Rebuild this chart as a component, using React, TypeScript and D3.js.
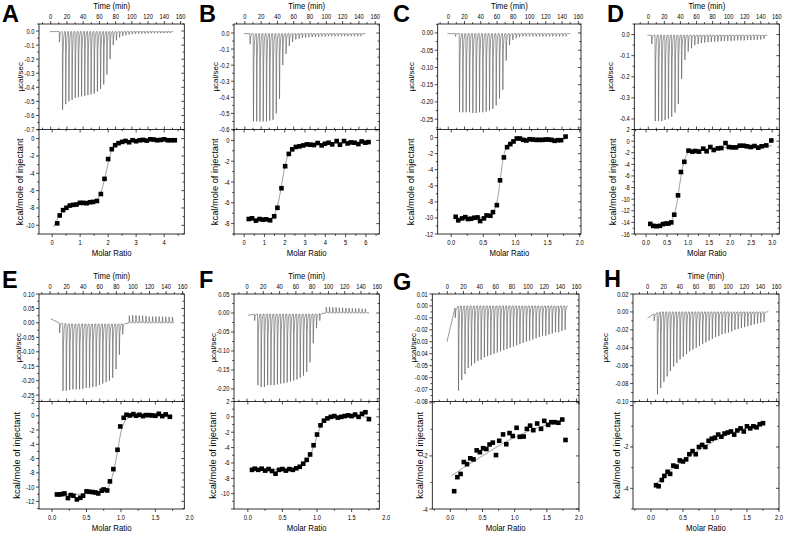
import React from "react";
import * as d3 from "d3";

type Pt = [number, number];

// ---------------- DATA ----------------
// Panel A
const A_BASE: Pt[] = [[-1, -0.004], [151, -0.004]];
const A_PEAKS: Pt[] = [[10.5,-0.08],[14.3,-0.56],[18.2,-0.52],[22.1,-0.5],[26,-0.49],[29.9,-0.475],[33.8,-0.47],[37.7,-0.465],[41.6,-0.46],[45.5,-0.455],[49.4,-0.45],[53.3,-0.445],[57.2,-0.43],[61.1,-0.41],[65,-0.38],[68.9,-0.31],[72.8,-0.2],[76.7,-0.1],[80.6,-0.065],[84.5,-0.045],[88.4,-0.035],[92.3,-0.03],[96.2,-0.025],[100.1,-0.022],[104,-0.02],[107.9,-0.02],[111.8,-0.018],[115.7,-0.018],[119.6,-0.017],[123.5,-0.016],[127.4,-0.016],[131.3,-0.015],[135.2,-0.015],[139.1,-0.015],[143,-0.014],[146.9,-0.014]];
const A_POINTS: Pt[] = [[0.18,-9.77],[0.27,-8.86],[0.39,-8.25],[0.51,-7.98],[0.63,-7.72],[0.75,-7.64],[0.87,-7.6],[0.99,-7.41],[1.11,-7.41],[1.23,-7.45],[1.35,-7.34],[1.46,-7.3],[1.6,-7.19],[1.74,-6.39],[1.87,-4.64],[2.0,-2.36],[2.13,-1.22],[2.25,-0.76],[2.37,-0.53],[2.5,-0.38],[2.62,-0.27],[2.75,-0.42],[2.87,-0.19],[3.0,-0.3],[3.13,-0.19],[3.25,-0.15],[3.38,-0.23],[3.51,-0.08],[3.63,-0.11],[3.75,-0.19],[3.88,-0.15],[4.0,-0.08],[4.13,-0.19],[4.25,-0.19],[4.38,-0.19]];
const A_FIT: Pt[] = [[0.05,-10.2],[0.2,-9.2],[0.4,-8.3],[0.6,-7.85],[0.8,-7.6],[1.0,-7.45],[1.2,-7.35],[1.4,-7.25],[1.6,-7.0],[1.7,-6.5],[1.8,-5.6],[1.9,-4.3],[2.0,-2.8],[2.1,-1.6],[2.2,-0.9],[2.35,-0.5],[2.6,-0.3],[3.0,-0.2],[4.4,-0.15]];

// Panel B
const B_BASE: Pt[] = [[-1, -0.004], [148, -0.004]];
const B_PEAKS: Pt[] = [[6.1,-0.07],[10.2,-0.55],[14.2,-0.55],[18.2,-0.55],[22.2,-0.55],[26.2,-0.55],[30.2,-0.545],[34.2,-0.54],[38.2,-0.5],[42.2,-0.41],[46.2,-0.2],[50.2,-0.13],[54.2,-0.08],[58.2,-0.055],[62.2,-0.04],[66.2,-0.035],[70.2,-0.03],[74.2,-0.028],[78.2,-0.026],[82.2,-0.025],[86.2,-0.024],[90.2,-0.023],[94.2,-0.022],[98.2,-0.022],[102.2,-0.02],[106.2,-0.02],[110.2,-0.02],[114.2,-0.02],[118.2,-0.02],[122.2,-0.02],[126.2,-0.02],[130.2,-0.02],[134.2,-0.02],[138.2,-0.02],[142.2,-0.02]];
const B_POINTS: Pt[] = [[0.23,-7.56],[0.39,-7.49],[0.58,-7.71],[0.76,-7.56],[0.92,-7.62],[1.09,-7.59],[1.28,-7.68],[1.48,-7.3],[1.64,-6.48],[1.84,-4.6],[2.02,-2.48],[2.2,-1.3],[2.37,-0.86],[2.55,-0.63],[2.73,-0.57],[2.91,-0.48],[3.09,-0.38],[3.26,-0.41],[3.44,-0.44],[3.62,-0.25],[3.82,-0.48],[3.98,-0.32],[4.16,-0.22],[4.34,-0.38],[4.56,-0.06],[4.72,-0.41],[4.92,-0.06],[5.1,-0.29],[5.26,-0.19],[5.44,-0.22],[5.63,-0.35],[5.79,-0.1],[5.97,-0.22],[6.13,-0.16]];
const B_FIT: Pt[] = [[0.2,-7.65],[1.0,-7.6],[1.3,-7.5],[1.5,-7.1],[1.6,-6.6],[1.7,-5.8],[1.8,-4.8],[1.9,-3.6],[2.0,-2.6],[2.1,-1.8],[2.2,-1.3],[2.4,-0.85],[2.7,-0.55],[3.2,-0.4],[4.0,-0.3],[6.2,-0.2]];

// Panel C
const C_BASE: Pt[] = [[-1, -0.002], [150, -0.002]];
const C_PEAKS: Pt[] = [[8.6,-0.01],[13.5,-0.23],[17.6,-0.23],[21.7,-0.23],[25.8,-0.23],[29.9,-0.232],[34,-0.232],[38.1,-0.23],[42.2,-0.23],[46.3,-0.228],[50.4,-0.225],[54.5,-0.22],[58.6,-0.21],[62.7,-0.19],[66.8,-0.165],[70.9,-0.08],[75,-0.035],[79.1,-0.02],[83.2,-0.015],[87.3,-0.012],[91.4,-0.01],[95.5,-0.01],[99.6,-0.01],[103.7,-0.01],[107.8,-0.01],[111.9,-0.01],[116,-0.01],[120.1,-0.01],[124.2,-0.01],[128.3,-0.01],[132.4,-0.01],[136.5,-0.01],[140.6,-0.01],[144.7,-0.01]];
const C_POINTS: Pt[] = [[0.07,-9.86],[0.11,-10.3],[0.17,-10.06],[0.22,-9.9],[0.26,-10.14],[0.31,-10.1],[0.36,-9.98],[0.41,-9.94],[0.45,-10.39],[0.51,-10.06],[0.55,-9.69],[0.61,-9.73],[0.65,-9.28],[0.71,-8.41],[0.76,-5.32],[0.82,-2.47],[0.87,-1.2],[0.92,-0.82],[0.97,-0.49],[1.02,-0.12],[1.07,-0.12],[1.12,-0.29],[1.17,-0.37],[1.22,-0.21],[1.27,-0.25],[1.32,-0.29],[1.37,-0.29],[1.42,-0.29],[1.47,-0.25],[1.51,-0.25],[1.56,-0.29],[1.61,-0.41],[1.66,-0.33],[1.71,-0.33],[1.78,0.12]];
const C_FIT: Pt[] = [[0.05,-10],[0.5,-9.95],[0.6,-9.7],[0.65,-9.3],[0.7,-8.4],[0.73,-7.2],[0.76,-5.5],[0.79,-3.6],[0.82,-2.2],[0.86,-1.2],[0.9,-0.6],[0.95,-0.35],[1.0,-0.25],[1.78,-0.2]];

// Panel D
const D_BASE: Pt[] = [[-1, -0.003], [148, -0.003]];
const D_PEAKS: Pt[] = [[4,-0.045],[8.3,-0.41],[12.4,-0.41],[16.5,-0.41],[20.6,-0.405],[24.7,-0.4],[28.8,-0.39],[32.9,-0.37],[37,-0.33],[41.1,-0.21],[45.2,-0.12],[49.3,-0.08],[53.4,-0.065],[57.5,-0.05],[61.6,-0.045],[65.7,-0.04],[69.8,-0.038],[73.9,-0.036],[78,-0.035],[82.1,-0.034],[86.2,-0.033],[90.3,-0.032],[94.4,-0.031],[98.5,-0.03],[102.6,-0.03],[106.7,-0.029],[110.8,-0.028],[114.9,-0.028],[119,-0.027],[123.1,-0.026],[127.2,-0.026],[131.3,-0.025],[135.4,-0.025],[139.5,-0.024],[143.6,-0.02]];
const D_POINTS: Pt[] = [[0.1,-14.26],[0.17,-14.6],[0.25,-14.66],[0.33,-14.6],[0.4,-14.3],[0.47,-14.2],[0.53,-14.2],[0.6,-14.0],[0.67,-12.68],[0.76,-9.34],[0.83,-5.32],[0.91,-3.57],[1.01,-1.64],[1.1,-1.81],[1.17,-1.7],[1.26,-1.81],[1.36,-1.3],[1.44,-1.75],[1.53,-1.02],[1.61,-1.53],[1.71,-1.25],[1.79,-1.19],[1.89,-0.34],[1.97,-1.02],[2.06,-1.08],[2.14,-1.08],[2.23,-0.79],[2.32,-0.79],[2.4,-0.9],[2.49,-1.02],[2.58,-0.85],[2.67,-1.13],[2.75,-0.9],[2.86,-0.74],[2.98,0.11]];
const D_FIT: Pt[] = [[0.05,-14.5],[0.5,-14.2],[0.6,-13.8],[0.65,-13],[0.7,-11.8],[0.75,-10],[0.8,-7.5],[0.85,-5.2],[0.9,-3.6],[0.95,-2.6],[1.0,-2.0],[1.1,-1.6],[1.5,-1.3],[2.0,-1.05],[3.0,-0.8]];

// Panel E
const E_BASE: Pt[] = [[1, 0.014], [5, 0.006], [10, 0.0], [20, -0.004], [85, -0.004], [90, -0.003], [94, 0.0], [150, 0.0]];
const E_PEAKS: Pt[] = [[11.3,-0.035],[15.3,-0.235],[19.3,-0.235],[23.3,-0.232],[27.3,-0.23],[31.3,-0.23],[35.3,-0.23],[39.3,-0.228],[43.3,-0.225],[47.3,-0.225],[51.3,-0.222],[55.3,-0.22],[59.3,-0.215],[63.3,-0.21],[67.3,-0.205],[71.3,-0.2],[75.3,-0.19],[79.3,-0.16],[83.3,-0.11],[87.3,-0.04],[95.3,0.025],[99.3,0.027],[103.3,0.026],[107.3,0.025],[111.3,0.025],[115.3,0.024],[119.3,0.022],[123.3,0.022],[127.3,0.022],[131.3,0.022],[135.3,0.022],[139.3,0.021],[143.3,0.021],[147.3,0.02]];
const E_POINTS: Pt[] = [[0.07,-11.03],[0.11,-11.03],[0.15,-10.98],[0.18,-10.89],[0.23,-11.54],[0.27,-11.12],[0.31,-11.21],[0.36,-11.73],[0.41,-11.5],[0.45,-11.21],[0.5,-10.6],[0.54,-10.65],[0.59,-10.7],[0.63,-10.75],[0.67,-10.89],[0.72,-10.51],[0.75,-10.33],[0.8,-10.47],[0.84,-9.2],[0.89,-7.48],[0.95,-4.77],[0.99,-1.5],[1.04,-0.28],[1.08,0.14],[1.13,0.05],[1.18,0.23],[1.22,0],[1.27,0.14],[1.32,-0.05],[1.36,0.09],[1.41,0.09],[1.45,0.05],[1.5,0],[1.55,0.28],[1.6,-0.05],[1.65,0.19],[1.71,-0.14]];
const E_FIT: Pt[] = [[0.05,-11.1],[0.3,-11.05],[0.5,-10.9],[0.7,-10.6],[0.8,-10.2],[0.85,-9.3],[0.9,-7.5],[0.95,-5],[1.0,-2.3],[1.05,-0.9],[1.1,-0.35],[1.2,-0.1],[1.75,-0.05]];

// Panel F
const F_BASE: Pt[] = [[1, -0.006], [10, -0.003], [85, -0.003], [92, 0.0], [150, 0.0]];
const F_PEAKS: Pt[] = [[9,-0.02],[13,-0.19],[17,-0.195],[21,-0.195],[25,-0.19],[29,-0.19],[33,-0.19],[37,-0.188],[41,-0.186],[45,-0.185],[49,-0.183],[53,-0.18],[57,-0.178],[61,-0.175],[65,-0.17],[69,-0.165],[73,-0.155],[77,-0.13],[81,-0.08],[85,-0.04],[89,-0.02],[97,0.015],[101,0.016],[105,0.015],[109,0.015],[113,0.014],[117,0.014],[121,0.013],[125,0.013],[129,0.012],[133,0.012],[137,0.012],[141,0.011],[145,0.011]];
const F_POINTS: Pt[] = [[0.06,-6.9],[0.1,-6.75],[0.15,-6.9],[0.2,-6.75],[0.25,-7.0],[0.3,-6.8],[0.35,-7.05],[0.4,-7.4],[0.45,-6.9],[0.5,-6.8],[0.55,-7.0],[0.6,-6.8],[0.65,-6.9],[0.7,-6.7],[0.75,-6.5],[0.8,-6.1],[0.85,-5.6],[0.9,-4.9],[0.95,-3.7],[1.0,-2.3],[1.05,-1.1],[1.1,-0.5],[1.15,-0.2],[1.2,0.0],[1.25,0.1],[1.3,-0.1],[1.35,0.0],[1.4,0.1],[1.45,0.2],[1.5,0.1],[1.55,0.3],[1.6,0.0],[1.65,0.4],[1.7,0.6],[1.75,-0.3]];
const F_FIT: Pt[] = [[0.05,-6.9],[0.6,-6.85],[0.75,-6.6],[0.85,-5.8],[0.9,-5.0],[0.95,-3.9],[1.0,-2.5],[1.05,-1.3],[1.1,-0.6],[1.2,-0.2],[1.35,-0.05],[1.75,0.0]];

// Panel G
const G_BASE: Pt[] = [[-0.5, -0.03], [3, -0.022], [6, -0.01], [9, -0.002], [12, 0.0], [149, 0.0]];
const G_PEAKS: Pt[] = [[9.5,-0.01],[13.5,-0.071],[17.5,-0.062],[21.5,-0.057],[25.5,-0.052],[29.5,-0.05],[33.5,-0.048],[37.5,-0.046],[41.5,-0.045],[45.5,-0.043],[49.5,-0.042],[53.5,-0.041],[57.5,-0.04],[61.5,-0.039],[65.5,-0.038],[69.5,-0.037],[73.5,-0.036],[77.5,-0.035],[81.5,-0.034],[85.5,-0.033],[89.5,-0.032],[93.5,-0.031],[97.5,-0.03],[101.5,-0.029],[105.5,-0.028],[109.5,-0.027],[113.5,-0.026],[117.5,-0.025],[121.5,-0.025],[125.5,-0.024],[129.5,-0.023],[133.5,-0.022],[137.5,-0.022],[141.5,-0.021],[145.5,-0.02]];
const G_POINTS: Pt[] = [[0.06,-3.33],[0.11,-2.8],[0.16,-2.68],[0.21,-2.23],[0.26,-2.31],[0.31,-2.09],[0.36,-2.13],[0.41,-1.79],[0.46,-1.86],[0.51,-1.71],[0.56,-1.74],[0.61,-1.57],[0.66,-1.5],[0.71,-1.97],[0.76,-1.43],[0.82,-1.19],[0.87,-1.56],[0.92,-1.14],[0.97,-1.25],[1.03,-0.94],[1.08,-1.28],[1.14,-1.27],[1.19,-0.98],[1.24,-0.86],[1.29,-1.03],[1.35,-0.78],[1.41,-0.98],[1.46,-0.68],[1.52,-0.83],[1.57,-0.73],[1.62,-0.73],[1.68,-0.75],[1.74,-0.63],[1.79,-1.4]];
const G_FIT: Pt[] = [[0.02,-2.75],[0.2,-2.45],[0.4,-2.15],[0.6,-1.85],[0.8,-1.55],[1.0,-1.3],[1.2,-1.08],[1.4,-0.9],[1.6,-0.76],[1.72,-0.7]];

// Panel H
const H_BASE: Pt[] = [[0, -0.007], [5, -0.004], [10, -0.001], [15, 0.0], [150, 0.0]];
const H_PEAKS: Pt[] = [[8,-0.01],[12,-0.092],[16,-0.085],[20,-0.078],[24,-0.072],[28,-0.066],[32,-0.061],[36,-0.057],[40,-0.053],[44,-0.05],[48,-0.047],[52,-0.044],[56,-0.042],[60,-0.04],[64,-0.038],[68,-0.036],[72,-0.034],[76,-0.032],[80,-0.03],[84,-0.028],[88,-0.027],[92,-0.025],[96,-0.024],[100,-0.023],[104,-0.022],[108,-0.02],[112,-0.019],[116,-0.018],[120,-0.017],[124,-0.016],[128,-0.015],[132,-0.014],[136,-0.013],[140,-0.012],[144,-0.011]];
const H_POINTS: Pt[] = [[0.08,-3.85],[0.12,-3.9],[0.17,-3.6],[0.21,-3.4],[0.26,-3.2],[0.3,-3.3],[0.35,-2.9],[0.4,-2.95],[0.45,-2.65],[0.5,-2.7],[0.55,-2.6],[0.6,-2.35],[0.65,-2.2],[0.7,-2.35],[0.75,-2.0],[0.8,-1.9],[0.85,-2.0],[0.9,-1.7],[0.95,-1.6],[1.0,-1.55],[1.05,-1.4],[1.1,-1.5],[1.15,-1.35],[1.2,-1.3],[1.25,-1.25],[1.3,-1.4],[1.35,-1.2],[1.4,-1.1],[1.45,-1.25],[1.5,-1.0],[1.55,-1.1],[1.6,-1.0],[1.65,-1.05],[1.7,-0.9],[1.75,-0.85]];
const H_FIT: Pt[] = [[0.05,-3.9],[0.2,-3.4],[0.4,-2.9],[0.6,-2.45],[0.8,-2.05],[1.0,-1.7],[1.2,-1.4],[1.4,-1.17],[1.6,-0.98],[1.75,-0.86]];

// Tick values
const TIME_TICKS = [0, 20, 40, 60, 80, 100, 120, 140, 160];
const A_UP_TICKS = [0, -0.1, -0.2, -0.3, -0.4, -0.5, -0.6, -0.7];
const B_UP_TICKS = [0, -0.1, -0.2, -0.3, -0.4, -0.5, -0.6];
const C_UP_TICKS = [0, -0.05, -0.1, -0.15, -0.2, -0.25];
const D_UP_TICKS = [0, -0.1, -0.2, -0.3, -0.4];
const E_UP_TICKS = [0.1, 0.05, 0, -0.05, -0.1, -0.15, -0.2, -0.25];
const F_UP_TICKS = [0.05, 0, -0.05, -0.1, -0.15, -0.2];
const G_UP_TICKS = [0.01, 0, -0.01, -0.02, -0.03, -0.04, -0.05, -0.06, -0.07, -0.08];
const H_UP_TICKS = [0.02, 0, -0.02, -0.04, -0.06, -0.08, -0.1];
const A_X_TICKS = [0, 1, 2, 3, 4];
const B_X_TICKS = [0, 1, 2, 3, 4, 5, 6];
const D_X_TICKS = [0, 0.5, 1, 1.5, 2, 2.5, 3];
const HALF_X_TICKS = [0, 0.5, 1, 1.5, 2];
const A_Y_TICKS = [0, -2, -4, -6, -8, -10];
const B_Y_TICKS = [0, -2, -4, -6, -8];
const C_Y_TICKS = [0, -2, -4, -6, -8, -10, -12];
const D_Y_TICKS = [2, 0, -2, -4, -6, -8, -10, -12, -14, -16];
const E_Y_TICKS = [2, 0, -2, -4, -6, -8, -10, -12];
const F_Y_TICKS = [2, 0, -2, -4, -6, -8, -10];
const G_Y_TICKS = [-2, -4];
const H_Y_TICKS = [-2, -4];

// ---------------- RENDERING ----------------
const FONT = "'Liberation Sans', Arial, Helvetica, sans-serif";
const SQUEEZE = 0.82;

interface Spec {
  letter: string; lx: number; ly: number;
  left: number; right: number; top: number; split: number; bottom: number;
  tDom: [number, number]; timeTitle: boolean;
  uDom: [number, number]; uTicks: number[]; uStep: number; uDec: number;
  base: Pt[]; peaks: Pt[];
  xDom: [number, number]; xTicks: number[]; xStep: number; xDec: number;
  yDom: [number, number]; yTicks: number[]; yStep: number;
  points: Pt[]; fit: Pt[];
  ul: number; ll: number;
}

const R1 = { top: 24, split: 129.5, bottom: 234 };
const R2 = { top: 294, split: 401.5, bottom: 509 };

const SPECS: Spec[] = [
  { letter: "A", lx: 2, ly: 22, left: 39, right: 184.3, ...R1, tDom: [-14.4, 164.6], timeTitle: true,
    uDom: [-0.7, 0.05], uTicks: A_UP_TICKS, uStep: 0.05, uDec: 1, base: A_BASE, peaks: A_PEAKS,
    xDom: [-0.47, 4.72], xTicks: A_X_TICKS, xStep: 0.5, xDec: 0, yDom: [-11, 1.05], yTicks: A_Y_TICKS, yStep: 1,
    points: A_POINTS, fit: A_FIT, ul: 20, ll: 20 },
  { letter: "B", lx: 199, ly: 22, left: 234, right: 379.3, ...R1, tDom: [-13.3, 165], timeTitle: true,
    uDom: [-0.6, 0.056], uTicks: B_UP_TICKS, uStep: 0.05, uDec: 1, base: B_BASE, peaks: B_PEAKS,
    xDom: [-0.5, 6.66], xTicks: B_X_TICKS, xStep: 0.5, xDec: 0, yDom: [-9, 1.05], yTicks: B_Y_TICKS, yStep: 1,
    points: B_POINTS, fit: B_FIT, ul: 215, ll: 215 },
  { letter: "C", lx: 393, ly: 22, left: 437.7, right: 581, ...R1, tDom: [-13, 163.3], timeTitle: true,
    uDom: [-0.28, 0.026], uTicks: C_UP_TICKS, uStep: 0.025, uDec: 2, base: C_BASE, peaks: C_PEAKS,
    xDom: [-0.21, 2.02], xTicks: HALF_X_TICKS, xStep: 0.25, xDec: 1, yDom: [-12, 1.0], yTicks: C_Y_TICKS, yStep: 1,
    points: C_POINTS, fit: C_FIT, ul: 411.7, ll: 410.7 },
  { letter: "D", lx: 607, ly: 22, left: 634.3, right: 779.3, ...R1, tDom: [-17.4, 163], timeTitle: true,
    uDom: [-0.45, 0.05], uTicks: D_UP_TICKS, uStep: 0.05, uDec: 1, base: D_BASE, peaks: D_PEAKS,
    xDom: [-0.28, 3.17], xTicks: D_X_TICKS, xStep: 0.25, xDec: 1, yDom: [-16, 2], yTicks: D_Y_TICKS, yStep: 1,
    points: D_POINTS, fit: D_FIT, ul: 610, ll: 613.3 },
  { letter: "E", lx: 2, ly: 288, left: 39, right: 184.3, ...R2, tDom: [-13.3, 162], timeTitle: true,
    uDom: [-0.272, 0.1], uTicks: E_UP_TICKS, uStep: 0.025, uDec: 2, base: E_BASE, peaks: E_PEAKS,
    xDom: [-0.19, 1.92], xTicks: HALF_X_TICKS, xStep: 0.25, xDec: 1, yDom: [-13.07, 2], yTicks: E_Y_TICKS, yStep: 1,
    points: E_POINTS, fit: E_FIT, ul: 18.3, ll: 16.7 },
  { letter: "F", lx: 199, ly: 288, left: 234, right: 379.3, ...R2, tDom: [-16, 162.5], timeTitle: true,
    uDom: [-0.233, 0.05], uTicks: F_UP_TICKS, uStep: 0.025, uDec: 2, base: F_BASE, peaks: F_PEAKS,
    xDom: [-0.2, 1.9], xTicks: HALF_X_TICKS, xStep: 0.25, xDec: 1, yDom: [-12, 2], yTicks: F_Y_TICKS, yStep: 1,
    points: F_POINTS, fit: F_FIT, ul: 213, ll: 213 },
  { letter: "G", lx: 393, ly: 290, left: 432.3, right: 579, ...R2, tDom: [-18.6, 163], timeTitle: false,
    uDom: [-0.08, 0.01], uTicks: G_UP_TICKS, uStep: 0.005, uDec: 2, base: G_BASE, peaks: G_PEAKS,
    xDom: [-0.28, 2.0], xTicks: HALF_X_TICKS, xStep: 0.25, xDec: 1, yDom: [-4, 0.05], yTicks: G_Y_TICKS, yStep: 1,
    points: G_POINTS, fit: G_FIT, ul: 413, ll: 420 },
  { letter: "H", lx: 604, ly: 286.5, left: 633, right: 779, ...R2, tDom: [-18, 163], timeTitle: true,
    uDom: [-0.1, 0.02], uTicks: H_UP_TICKS, uStep: 0.01, uDec: 2, base: H_BASE, peaks: H_PEAKS,
    xDom: [-0.28, 2.0], xTicks: HALF_X_TICKS, xStep: 0.25, xDec: 1, yDom: [-5, 0.2], yTicks: H_Y_TICKS, yStep: 1,
    points: H_POINTS, fit: H_FIT, ul: 605, ll: 617 },
];

const fmt = (v: number, dec: number) => (Math.abs(v) < 1e-9 ? (0).toFixed(dec) : v.toFixed(dec));

function minorTicks(dom: [number, number], step: number): number[] {
  const lo = Math.min(dom[0], dom[1]);
  const hi = Math.max(dom[0], dom[1]);
  const out: number[] = [];
  const start = Math.ceil(lo / step - 1e-6);
  for (let k = start; k * step <= hi + 1e-9; k++) out.push(+(k * step).toFixed(6));
  return out;
}

function thermo(base: Pt[], peaks: Pt[]): Pt[] {
  const bl = d3.scaleLinear().domain(base.map((d) => d[0])).range(base.map((d) => d[1])).clamp(true);
  const t0 = base[0][0];
  const t1 = base[base.length - 1][0];
  const pts: Pt[] = [[t0, bl(t0)]];
  peaks.forEach(([t, d]) => {
    const b = bl(t);
    pts.push([t, b], [t + 0.35, d], [t + 0.9, b + (d - b) * 0.3], [t + 1.7, b + (d - b) * 0.08], [t + 2.8, b]);
  });
  pts.push([t1, bl(t1)]);
  return pts;
}

// horizontally condensed text (the original figure is squeezed horizontally)
const HText: React.FC<{ x: number; y: number; size: number; anchor?: string; children: React.ReactNode }> = ({ x, y, size, anchor = "middle", children }) => (
  <text transform={`translate(${x},${y}) scale(${SQUEEZE},1)`} fontSize={size} textAnchor={anchor} fontFamily={FONT} fill="#000">
    {children}
  </text>
);

const Panel: React.FC<{ s: Spec }> = ({ s }) => {
  const tx = d3.scaleLinear().domain(s.tDom).range([s.left, s.right]);
  const uy = d3.scaleLinear().domain(s.uDom).range([s.split, s.top]);
  const mx = d3.scaleLinear().domain(s.xDom).range([s.left, s.right]);
  const my = d3.scaleLinear().domain(s.yDom).range([s.bottom, s.split]);
  const tick = 3;
  const minor = 1.8;
  const fs = 7;
  const els: React.ReactNode[] = [];
  let k = 0;
  const ln = (x1: number, y1: number, x2: number, y2: number) =>
    els.push(<line key={k++} x1={x1} y1={y1} x2={x2} y2={y2} stroke="#000" strokeWidth={0.7} />);

  minorTicks(s.tDom, 10).forEach((t) => {
    const major = TIME_TICKS.includes(t);
    const x = tx(t);
    ln(x, s.top, x, s.top - (major ? tick : minor));
    ln(x, s.split, x, s.split - (major ? tick : minor));
  });
  TIME_TICKS.forEach((t) => els.push(<HText key={k++} x={tx(t)} y={s.top - 5} size={fs}>{t}</HText>));

  minorTicks(s.uDom, s.uStep).forEach((v) => {
    const major = s.uTicks.some((u) => Math.abs(u - v) < 1e-6);
    const y = uy(v);
    ln(s.left, y, s.left - (major ? tick : minor), y);
    ln(s.right, y, s.right - (major ? tick : minor), y);
  });
  s.uTicks.forEach((v) => els.push(<HText key={k++} x={s.left - 4.5} y={uy(v) + 2.5} size={fs} anchor="end">{fmt(v, s.uDec)}</HText>));

  minorTicks(s.xDom, s.xStep).forEach((v) => {
    const major = s.xTicks.some((u) => Math.abs(u - v) < 1e-6);
    const x = mx(v);
    ln(x, s.bottom, x, s.bottom + (major ? tick : minor));
    ln(x, s.split, x, s.split + (major ? tick : minor));
  });
  s.xTicks.forEach((v) => els.push(<HText key={k++} x={mx(v)} y={s.bottom + 11} size={fs}>{fmt(v, s.xDec)}</HText>));

  minorTicks(s.yDom, s.yStep).forEach((v) => {
    const major = Math.abs(v % 2) < 1e-6;
    const y = my(v);
    ln(s.left, y, s.left - (major ? tick : minor), y);
    ln(s.right, y, s.right - (major ? tick : minor), y);
  });
  s.yTicks.forEach((v) => els.push(<HText key={k++} x={s.left - 4.5} y={my(v) + 2.5} size={fs} anchor="end">{fmt(v, 0)}</HText>));

  const thermoLine = d3.line<Pt>().x((d) => tx(d[0])).y((d) => uy(d[1]));
  const fitLine = d3.line<Pt>().x((d) => mx(d[0])).y((d) => my(d[1])).curve(d3.curveMonotoneX);
  const sq = 4.6;
  const cx = (s.left + s.right) / 2;
  const uc = (s.top + s.split) / 2;
  const lc = (s.split + s.bottom) / 2;

  return (
    <g>
      <text x={s.lx} y={s.ly} fontSize={23.5} fontWeight="bold" fontFamily={FONT}>{s.letter}</text>
      {s.timeTitle && <HText x={cx} y={s.top - 15} size={9.5}>Time (min)</HText>}
      <path d={thermoLine(thermo(s.base, s.peaks)) || ""} fill="none" stroke="#555" strokeWidth={0.6} />
      <path d={fitLine(s.fit) || ""} fill="none" stroke="#888" strokeWidth={0.8} />
      {s.points.map((p, i) => (
        <rect key={i} x={mx(p[0]) - sq / 2} y={my(p[1]) - sq / 2} width={sq} height={sq} fill="#000" />
      ))}
      {els}
      <rect x={s.left} y={s.top} width={s.right - s.left} height={s.bottom - s.top} fill="none" stroke="#000" strokeWidth={0.8} />
      <line x1={s.left} x2={s.right} y1={s.split} y2={s.split} stroke="#000" strokeWidth={0.8} />
      <text transform={`translate(${s.ul + 2.5},${uc}) rotate(-90)`} fontSize={8} textAnchor="middle" fontFamily={FONT}>µcal/sec</text>
      <text transform={`translate(${s.ll + 3},${lc}) rotate(-90)`} fontSize={9.3} textAnchor="middle" fontFamily={FONT}>kcal/mole of injectant</text>
      <HText x={cx} y={s.bottom + 22} size={9.5}>Molar Ratio</HText>
    </g>
  );
};

export default function App() {
  return (
    <svg width={788} height={533} style={{ position: "absolute", left: 0, top: 0, background: "#fff" }}>
      <rect width={788} height={533} fill="#fff" />
      {SPECS.map((s) => (
        <Panel key={s.letter} s={s} />
      ))}
    </svg>
  );
}
